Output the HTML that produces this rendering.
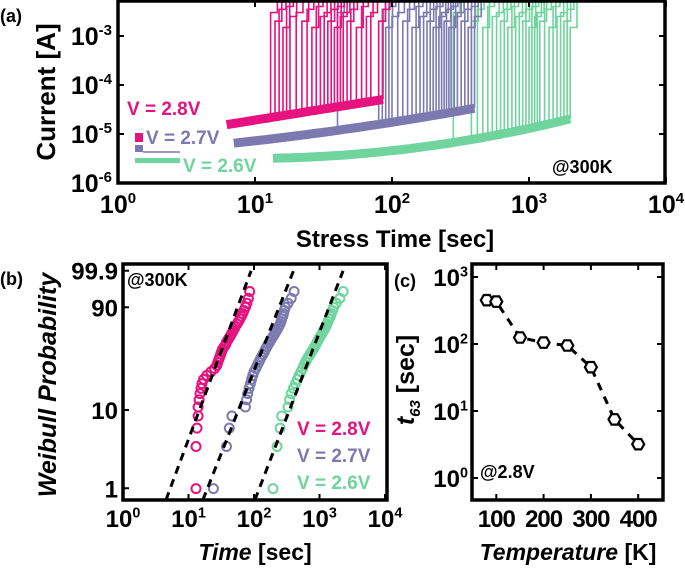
<!DOCTYPE html>
<html><head><meta charset="utf-8"><style>
html,body{margin:0;padding:0;background:#fff;}
svg{display:block;font-family:"Liberation Sans",sans-serif;font-weight:bold;}
</style></head><body>
<svg id="fig" width="685" height="568" viewBox="0 0 685 568">
<defs>
<clipPath id="clipA"><rect x="118" y="0" width="547" height="183"/></clipPath>
<clipPath id="clipB"><rect x="123" y="263" width="264" height="237"/></clipPath>
<clipPath id="clipC"><rect x="472" y="263" width="191" height="237"/></clipPath>
</defs>
<g id="gA"></g>
<g id="gB"></g>
<g id="gC"></g>
</svg>
<script>
// ---- data ----
const voltages = ["V = 2.8V","V = 2.7V","V = 2.6V"];
const colors = ["#e5127f","#7c79b1","#6fd49d"];
const t28 = [13,13,13.5,14,14,14.5,15,15.5,16,17,19,22,25,27,28,29,30,31,32,33,35,37,38,40,42,44,46,48,50,52,55,58,61,64,67,70,74,78,82,86];
const t27 = [24,38,42,46,74,77,80,84,88,92,96,100,106,112,118,124,130,137,144,150,157,165,173,181,190,200,210,220,230,240,250,258,266,274,282,290,300,330,370,410];
const t26 = [195,225,250,265,330,350,370,400,430,460,490,520,550,580,610,640,680,720,760,800,840,880,920,960,1000,1050,1100,1150,1200,1260,1300,1350,1400,1460,1520,1580,1640,1800,2050,2300];
const tBreakA28 = [13,14,15,16,17,18,20,22,24,26,28,30,32,34,36,38,40,42,44,47,50,55,60,65,70,80,86];
const tBreakA27 = [40,80,85,90,95,100,110,120,130,140,150,160,170,180,190,200,210,220,230,240,250,260,270,285,300,320,340,360,380,400];
const tBreakA26 = [280,380,420,460,500,540,580,620,660,700,750,800,850,900,950,1000,1050,1100,1150,1200,1300,1400,1500,1600,1700,1800,1900,2000];
const fitBeta = [2.3,2.16,2.22];
const fitEta = [39,164,960];
const baseI0 = [1.55e-5,6.5e-6,3.2e-6];
const baseT0 = [6.2,7,13.5];
const baseK = [0.45,0.3,0.049];
const baseC = [0,0.06,0.148];
const postI = [3e-3,2e-3,3.5e-3,1.5e-3,4e-3,2.5e-3];
const tempK = [80,100,150,200,250,300,350,400];
const t63 = [450,430,125,105,95,45,7.5,3.2];
const xTicksLog = [0,1,2,3,4];
const yTicksA = [-6,-5,-4,-3];
const yTicksB = [0.01,0.1,0.9,0.999];
const yTickBLabels = ["1","10","90","99.9"];
const yTicksC = [0,1,2,3];
const xTicksC = [100,200,300,400];

const NS="http://www.w3.org/2000/svg";
function mk(parent,tag,attrs,text){const e=document.createElementNS(NS,tag);for(const k in attrs)e.setAttribute(k,attrs[k]);if(text!==undefined)e.textContent=text;parent.appendChild(e);return e;}
function pw(parent,x,y,exp,size,anchor){const t=mk(parent,'text',{x:x,y:y,'font-size':size,'text-anchor':anchor||'middle'});const s1=document.createElementNS(NS,'tspan');s1.textContent='10';t.appendChild(s1);const s2=document.createElementNS(NS,'tspan');s2.setAttribute('dy',-size*0.4);s2.setAttribute('font-size',size*0.6);s2.textContent=exp;t.appendChild(s2);return t;}

const xa=t=>118+137*Math.log10(t), ya=I=>183-49*(Math.log10(I)+6);
const xb=t=>123+65.5*Math.log10(t), yb=F=>410-33.3*(Math.log(-Math.log(1-F))+2.25);
const xc=T=>449+0.473*T, yc=v=>478-67*Math.log10(v);
function base(s,t){const u=Math.log10(t/baseT0[s]);return baseI0[s]*Math.pow(10,baseK[s]*u+baseC[s]*u*u);}

// ---- Panel A ----
const gA=document.getElementById('gA');
const plotA=mk(gA,'g',{'clip-path':'url(#clipA)'});


const bdA=[tBreakA28,tBreakA27,tBreakA26];
for(let s=2;s>=0;s--){
  const tmax=Math.max(...bdA[s]);
  const bl=[];for(let j=0;j<=30;j++){const t=baseT0[s]*Math.pow(tmax/baseT0[s],j/30);bl.push(xa(t).toFixed(1)+','+ya(base(s,t)).toFixed(1));}
  const b=mk(plotA,'polyline',{points:bl.join(' '),fill:'none',stroke:colors[s],'stroke-width':9});
  
  
  bdA[s].forEach((tb,i)=>{
    const lv=postI[i%postI.length];
    const t2=tb*1.12;
    const pts=[xa(tb).toFixed(1)+','+ya(base(s,tb)).toFixed(1),xa(tb).toFixed(1)+','+ya(lv).toFixed(1),xa(t2).toFixed(1)+','+ya(lv).toFixed(1),xa(t2).toFixed(1)+','+ya(8e-3).toFixed(1)];
    const p=mk(plotA,'polyline',{points:pts.join(' '),fill:'none',stroke:colors[s],'stroke-width':1.6});
    
    
  });
}
mk(gA,'rect',{x:118,y:1,width:547,height:182,fill:'none',stroke:'#000','stroke-width':3.5});
xTicksLog.forEach(e=>{const x=xa(Math.pow(10,e));mk(gA,'line',{x1:x,y1:183,x2:x,y2:177,stroke:'#000','stroke-width':2});mk(gA,'line',{x1:x,y1:1,x2:x,y2:7,stroke:'#000','stroke-width':2});const t=pw(gA,x,213,e,25);});
yTicksA.forEach(e=>{const y=ya(Math.pow(10,e));mk(gA,'line',{x1:118,y1:y,x2:124,y2:y,stroke:'#000','stroke-width':2});mk(gA,'line',{x1:665,y1:y,x2:659,y2:y,stroke:'#000','stroke-width':2});const t=pw(gA,112,y+9,e,25,'end');});
mk(gA,'text',{x:395,y:247,'font-size':24,'text-anchor':'middle',},'Stress Time [sec]');
mk(gA,'text',{x:0,y:0,'font-size':26,'text-anchor':'middle',transform:'translate(55,92) rotate(-90)',},'Current [A]');
mk(gA,'text',{x:0,y:22,'font-size':18,},'(a)');
mk(gA,'text',{x:127,y:115,'font-size':19,fill:colors[0],},voltages[0]);
mk(gA,'rect',{x:135,y:133,width:8,height:9,fill:colors[0],});
mk(gA,'text',{x:146,y:144,'font-size':19,fill:colors[1],},voltages[1]);
mk(gA,'rect',{x:135,y:145,width:8,height:7,fill:colors[1],});
mk(gA,'line',{x1:143,y1:152,x2:180,y2:152,stroke:colors[1],'stroke-width':1.5});
mk(gA,'rect',{x:135,y:158,width:45,height:5,fill:colors[2],});
mk(gA,'text',{x:183,y:172,'font-size':19,fill:colors[2],},voltages[2]);
mk(gA,'text',{x:552,y:173,'font-size':18,},'@300K');

// ---- Panel B ----
const gB=document.getElementById('gB');
const plotB=mk(gB,'g',{'clip-path':'url(#clipB)'});
[t28,t27,t26].forEach((arr,s)=>{
  const n=arr.length;
  arr.forEach((t,i)=>{const F=(i+0.4)/(n+0.4);const c=mk(plotB,'circle',{cx:xb(t).toFixed(1),cy:yb(F).toFixed(1),r:4.5,fill:'none',stroke:colors[s],'stroke-width':2});
    
    });
  const w1=-4.95,w2=1.93;
  const l=mk(plotB,'line',{x1:xb(fitEta[s]*Math.exp(w1/fitBeta[s])),y1:410-33.3*(w1+2.25),x2:xb(fitEta[s]*Math.exp(w2/fitBeta[s])),y2:410-33.3*(w2+2.25),stroke:'#000','stroke-width':3,'stroke-dasharray':'8,6'});
  
  
});
mk(gB,'rect',{x:123,y:264,width:264,height:236,fill:'none',stroke:'#000','stroke-width':3.5});
xTicksLog.forEach(e=>{const x=xb(Math.pow(10,e));mk(gB,'line',{x1:x,y1:500,x2:x,y2:494,stroke:'#000','stroke-width':2});mk(gB,'line',{x1:x,y1:264,x2:x,y2:270,stroke:'#000','stroke-width':2});const t=pw(gB,x,527,e,24);});
yTicksB.forEach((F,i)=>{const y=yb(F);const t=mk(gB,'text',{x:118,y:y+9,'font-size':24,'text-anchor':'end'},yTickBLabels[i]);mk(gB,'line',{x1:123,y1:y,x2:129,y2:y,stroke:'#000','stroke-width':2});});
mk(gB,'text',{x:255,y:560,'font-size':23,'text-anchor':'middle',},'').innerHTML='<tspan font-style="italic">Time</tspan> [sec]';
mk(gB,'text',{x:0,y:0,'font-size':25,'font-style':'italic','text-anchor':'middle',transform:'translate(56,385) rotate(-90)',},'Weibull Probability');
mk(gB,'text',{x:0,y:285,'font-size':18,},'(b)');
mk(gB,'text',{x:127,y:286,'font-size':18,},'@300K');
[0,1,2].forEach(s=>{const t=mk(gB,'text',{x:297,y:435+s*27,'font-size':19,fill:colors[s]},voltages[s]);});

// ---- Panel C ----
const gC=document.getElementById('gC');
const plotC=mk(gC,'g',{'clip-path':'url(#clipC)'});
const lineC=mk(plotC,'polyline',{points:tempK.map((T,i)=>xc(T).toFixed(1)+','+yc(t63[i]).toFixed(1)).join(' '),fill:'none',stroke:'#000','stroke-width':3,'stroke-dasharray':'8,7'});


tempK.forEach((T,i)=>{const cx=xc(T),cy=yc(t63[i]);const pts=[];for(let k=0;k<6;k++){const a=Math.PI/3*k;pts.push((cx+6*Math.cos(a)).toFixed(1)+','+(cy+6*Math.sin(a)).toFixed(1));}
  const p=mk(plotC,'polygon',{points:pts.join(' '),fill:'#fff',stroke:'#000','stroke-width':2.2});
  
  });
mk(gC,'rect',{x:472,y:264,width:191,height:236,fill:'none',stroke:'#000','stroke-width':3.5});
yTicksC.forEach(e=>{const y=yc(Math.pow(10,e));mk(gC,'line',{x1:472,y1:y,x2:478,y2:y,stroke:'#000','stroke-width':2});mk(gC,'line',{x1:663,y1:y,x2:657,y2:y,stroke:'#000','stroke-width':2});const t=pw(gC,468,y+9,e,24,'end');});
xTicksC.forEach(T=>{const x=xc(T);mk(gC,'line',{x1:x,y1:500,x2:x,y2:494,stroke:'#000','stroke-width':2});mk(gC,'line',{x1:x,y1:264,x2:x,y2:270,stroke:'#000','stroke-width':2});const t=mk(gC,'text',{x:x,y:527,'font-size':24,'text-anchor':'middle','letter-spacing':'-1'},String(T));});
mk(gC,'text',{x:568,y:560,'font-size':23,'text-anchor':'middle',},'').innerHTML='<tspan font-style="italic">Temperature</tspan> [K]';
mk(gC,'text',{x:0,y:0,'font-size':25,'text-anchor':'middle',transform:'translate(414,380) rotate(-90)',},'').innerHTML='<tspan font-style="italic">t</tspan><tspan font-size="15" dy="6" font-style="italic">63</tspan><tspan dy="-6"> [sec]</tspan>';
mk(gC,'text',{x:394,y:287,'font-size':18,},'(c)');
mk(gC,'text',{x:480,y:478,'font-size':18,},'@2.8V');
</script>
</body></html>
